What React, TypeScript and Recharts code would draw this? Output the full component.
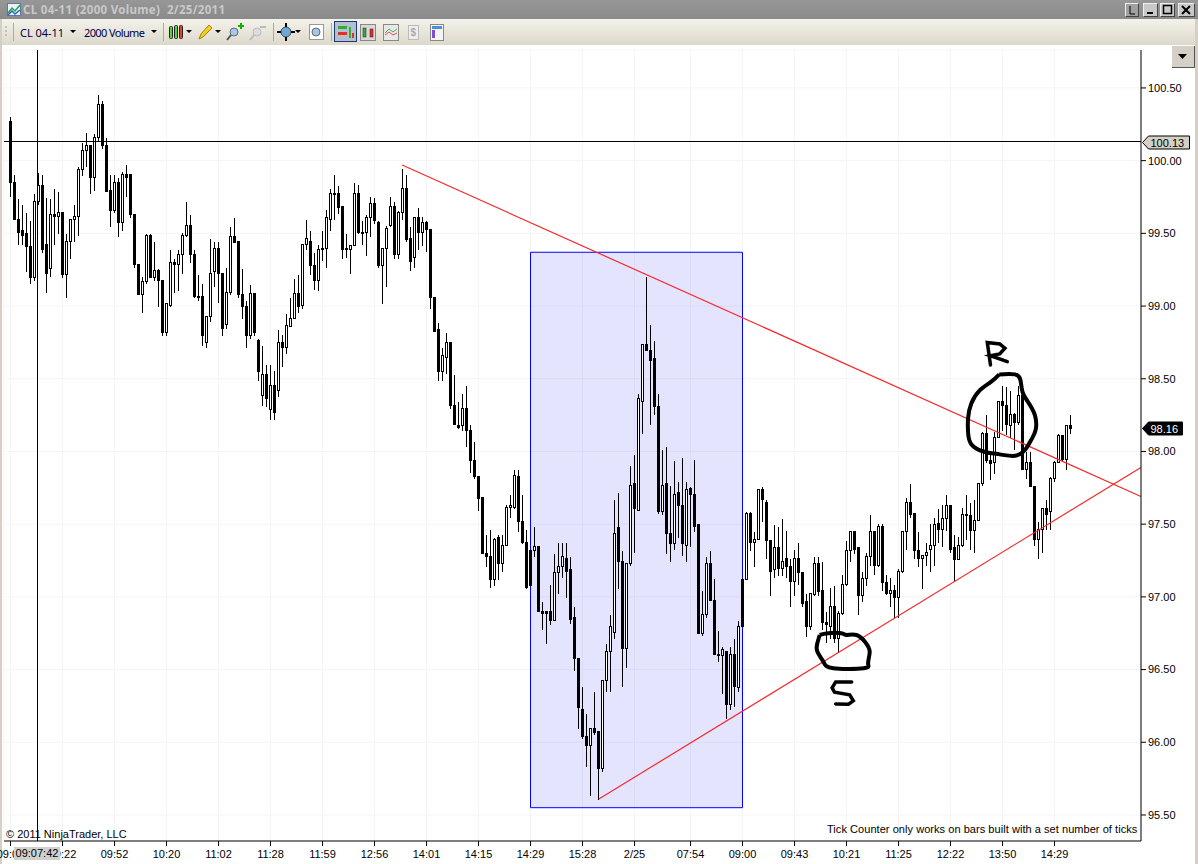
import React from "react";
import {
  Bar,
  CartesianGrid,
  ComposedChart,
  Line,
  ReferenceArea,
  ReferenceLine,
  XAxis,
  YAxis,
} from "recharts";

const opens = [
  100.27,99.85,99.60,99.52,99.50,99.41,99.20,99.72,99.83,99.43,
  99.26,99.63,99.62,99.65,99.22,99.45,99.60,99.62,99.94,100.07,
  100.11,99.89,100.16,100.39,100.11,99.80,99.66,99.85,99.58,99.91,
  99.91,99.63,99.29,99.08,99.17,99.49,99.20,99.25,99.18,98.82,
  99.01,99.30,99.29,99.36,99.49,99.56,99.36,99.07,99.07,98.75,
  98.93,99.24,99.40,99.23,98.88,99.10,99.48,99.45,99.08,99.00,
  98.80,99.09,98.77,98.39,98.53,98.29,98.46,98.42,98.75,98.72,
  98.86,98.92,99.09,99.01,99.43,99.45,99.28,99.18,99.39,99.40,
  99.60,99.78,99.78,99.69,99.39,99.39,99.42,99.78,99.51,99.51,
  99.61,99.71,99.58,99.28,99.40,99.56,99.69,99.36,99.65,99.81,
  99.47,99.34,99.61,99.51,99.58,99.53,99.06,98.84,98.55,98.65,
  98.75,98.32,98.18,98.18,98.30,98.15,97.94,97.83,97.69,97.30,
  97.28,97.12,97.41,97.23,97.36,97.62,97.62,97.83,97.52,97.38,
  97.32,97.32,97.35,96.90,96.90,96.90,96.84,97.17,97.21,97.27,
  97.19,96.86,96.58,96.23,96.04,95.98,96.10,96.08,95.82,96.43,
  96.63,96.76,97.48,97.25,96.65,97.23,97.78,97.60,98.35,98.74,
  98.70,98.64,98.31,97.59,97.78,97.44,97.37,97.72,97.63,97.36,
  97.75,97.71,97.50,96.75,96.88,97.23,96.98,96.61,96.60,96.63,
  96.26,96.61,96.38,97.12,97.12,97.58,97.38,97.40,97.74,97.65,
  97.39,97.19,97.34,97.20,97.27,97.21,97.11,97.27,97.17,96.97,
  96.80,97.02,97.23,97.05,96.83,96.80,96.94,96.72,96.89,97.09,
  97.32,97.45,97.34,97.01,97.13,97.28,97.45,97.22,97.49,97.10,
  97.03,97.05,97.00,97.18,97.45,97.65,97.58,97.32,97.27,97.29,
  97.33,97.36,97.51,97.47,97.54,97.63,97.34,97.26,97.36,97.57,
  97.56,97.46,97.53,97.78,98.13,97.94,97.93,98.10,98.35,98.32,
  98.18,98.26,98.20,98.39,97.88,97.93,97.76,97.40,97.47,97.61,
  97.59,97.82,97.93,98.11,97.95,98.18,
];

const closes = [
  99.85,99.60,99.51,99.49,99.41,99.20,99.72,99.83,99.39,99.23,
  99.63,99.62,99.65,99.22,99.45,99.60,99.62,99.94,100.07,100.11,
  99.89,100.16,100.39,100.11,99.79,99.66,99.85,99.58,99.91,99.89,
  99.63,99.29,99.08,99.17,99.49,99.20,99.25,99.18,98.82,99.02,
  99.30,99.29,99.36,99.49,99.56,99.36,99.07,99.07,98.80,98.93,
  99.23,99.40,99.23,98.85,99.10,99.48,99.44,99.08,99.00,98.80,
  99.09,98.82,98.55,98.53,98.37,98.46,98.27,98.75,98.72,98.87,
  98.92,99.09,99.00,99.43,99.47,99.28,99.18,99.39,99.40,99.61,
  99.78,99.77,99.68,99.39,99.40,99.42,99.78,99.51,99.50,99.61,
  99.71,99.59,99.28,99.40,99.54,99.69,99.36,99.65,99.81,99.46,
  99.31,99.61,99.51,99.58,99.53,99.06,98.83,98.55,98.66,98.75,
  98.32,98.19,98.17,98.30,98.15,97.94,97.83,97.68,97.30,97.28,
  97.12,97.40,97.23,97.36,97.62,97.63,97.84,97.52,97.38,97.07,
  97.08,97.35,96.90,96.89,96.89,96.84,97.17,97.21,97.28,97.18,
  96.85,96.58,96.24,96.04,95.98,96.10,96.07,95.82,96.43,96.63,
  96.80,97.44,97.25,96.65,97.23,97.77,97.61,98.37,98.74,98.70,
  98.63,98.31,97.59,97.77,97.44,97.37,97.71,97.63,97.37,97.74,
  97.71,97.49,96.75,96.88,97.23,96.98,96.61,96.60,96.64,96.26,
  96.61,96.39,96.80,96.80,97.58,97.38,97.40,97.74,97.67,97.39,
  97.18,97.34,97.20,97.25,97.21,97.11,97.27,97.17,96.96,96.80,
  97.03,97.23,97.04,96.83,96.81,96.94,96.72,96.89,97.09,97.32,
  97.45,97.33,97.01,97.13,97.28,97.45,97.22,97.49,97.10,97.03,
  97.05,97.00,97.18,97.45,97.65,97.57,97.32,97.27,97.29,97.31,
  97.36,97.50,97.47,97.54,97.63,97.33,97.26,97.36,97.57,97.56,
  97.46,97.53,97.78,98.13,97.94,97.92,98.10,98.35,98.32,98.19,
  98.26,98.20,98.39,97.88,97.93,97.76,97.40,97.47,97.61,97.57,
  97.82,97.93,98.11,97.95,98.18,98.16,
];

const highs = [
  100.31,99.91,99.74,99.70,99.65,99.59,99.78,99.92,99.91,99.75,
  99.74,99.81,99.79,99.65,99.50,99.60,99.70,99.96,100.13,100.20,
  100.11,100.19,100.46,100.42,100.16,99.91,99.91,99.89,99.93,99.98,
  99.91,99.63,99.29,99.21,99.50,99.50,99.45,99.26,99.18,99.03,
  99.39,99.33,99.39,99.51,99.72,99.63,99.39,99.22,99.16,98.93,
  99.47,99.45,99.45,99.23,99.27,99.55,99.61,99.45,99.26,99.04,
  99.15,99.09,98.78,98.73,98.60,98.60,98.56,98.84,98.81,98.95,
  99.06,99.19,99.22,99.43,99.60,99.52,99.37,99.43,99.52,99.67,
  99.81,99.91,99.83,99.69,99.50,99.43,99.85,99.84,99.59,99.63,
  99.76,99.75,99.59,99.40,99.56,99.76,99.72,99.66,99.95,99.91,
  99.55,99.61,99.68,99.62,99.59,99.53,99.06,98.89,98.72,98.82,
  98.75,98.53,98.35,98.40,98.46,98.19,98.07,97.83,97.69,97.43,
  97.47,97.41,97.43,97.43,97.64,97.71,97.88,97.88,97.71,97.47,
  97.32,97.49,97.35,96.97,96.90,97.09,97.30,97.38,97.38,97.38,
  97.28,96.94,96.58,96.39,96.20,96.10,96.35,96.08,96.43,96.68,
  96.88,97.67,97.72,97.32,97.24,97.91,97.98,98.40,98.74,99.21,
  98.88,98.77,98.40,98.02,98.04,97.77,97.94,97.80,97.96,97.80,
  97.76,97.95,97.50,97.05,97.28,97.32,97.13,96.77,96.66,96.63,
  96.66,96.72,96.84,97.12,97.59,97.59,97.45,97.75,97.76,97.67,
  97.40,97.50,97.49,97.54,97.46,97.27,97.33,97.38,97.17,97.03,
  97.03,97.28,97.28,97.25,96.90,97.07,97.08,96.91,97.16,97.39,
  97.46,97.46,97.34,97.18,97.31,97.57,97.45,97.51,97.51,97.16,
  97.14,97.09,97.20,97.45,97.69,97.78,97.58,97.45,97.29,97.38,
  97.51,97.55,97.61,97.64,97.71,97.63,97.43,97.42,97.62,97.71,
  97.65,97.67,97.79,98.14,98.26,98.00,98.14,98.35,98.46,98.45,
  98.42,98.27,98.46,98.39,98.00,98.00,97.76,97.52,97.61,97.67,
  97.83,97.94,98.13,98.12,98.19,98.26,
];

const lows = [
  99.76,99.60,99.43,99.43,99.24,99.16,99.18,99.70,99.37,99.10,
  99.21,99.43,99.50,99.20,99.06,99.33,99.45,99.49,99.90,99.96,
  99.78,99.80,100.14,100.09,99.79,99.55,99.65,99.48,99.52,99.76,
  99.61,99.27,99.08,98.96,99.16,99.20,99.18,99.00,98.80,98.80,
  99.00,99.10,99.11,99.23,99.48,99.30,99.06,99.04,98.73,98.72,
  98.90,99.14,99.03,98.80,98.85,99.08,99.44,99.06,98.92,98.72,
  98.78,98.80,98.49,98.32,98.31,98.22,98.22,98.38,98.59,98.68,
  98.86,98.92,98.96,98.99,99.39,99.22,99.12,99.11,99.32,99.27,
  99.52,99.60,99.64,99.33,99.34,99.23,99.42,99.50,99.43,99.35,
  99.48,99.57,99.27,99.02,99.14,99.55,99.33,99.33,99.60,99.45,
  99.25,99.27,99.39,99.42,99.38,98.99,98.83,98.49,98.49,98.54,
  98.30,98.19,98.16,98.15,98.04,97.86,97.82,97.60,97.30,97.21,
  97.07,97.08,97.12,97.18,97.36,97.55,97.61,97.45,97.37,97.06,
  97.08,97.28,96.90,96.78,96.68,96.81,96.84,97.03,97.14,97.00,
  96.82,96.50,96.10,96.03,95.84,95.64,96.06,95.61,95.80,96.35,
  96.35,96.72,97.06,96.39,96.52,97.22,97.31,97.60,98.13,98.70,
  98.19,98.26,97.58,97.57,97.30,97.25,97.33,97.41,97.29,97.25,
  97.35,97.45,96.75,96.74,96.86,96.98,96.61,96.56,96.34,96.17,
  96.23,96.25,96.35,96.80,97.12,97.32,97.21,97.40,97.52,97.27,
  97.01,97.14,97.15,97.15,97.14,96.94,97.01,97.09,96.94,96.73,
  96.78,97.01,97.01,96.78,96.69,96.72,96.69,96.62,96.88,97.08,
  97.25,97.30,96.88,96.97,97.08,97.22,97.16,97.21,97.05,97.02,
  96.94,96.86,96.86,97.17,97.33,97.55,97.27,97.21,97.06,97.22,
  97.18,97.22,97.38,97.35,97.46,97.31,97.11,97.26,97.35,97.40,
  97.33,97.31,97.53,97.77,97.93,97.81,97.85,98.10,98.15,98.12,
  98.10,98.02,98.19,97.88,97.82,97.76,97.36,97.27,97.31,97.47,
  97.47,97.80,97.93,97.94,97.88,98.13,
];

const timeTickBars = [0,13,26,39,52,65,78,91,104,117,130,143,156,170,183,196,209,222,235,248,261];
const timeTickLabels = [
  "09:00","09:22","09:52","10:20","11:02","11:28","11:59","12:56","14:01","14:15","14:29",
  "15:28","2/25","07:54","09:00","09:43","10:21","11:25","12:22","13:50","14:29",
];
const priceTicks = [95.5,96,96.5,97,97.5,98,98.5,99,99.5,100,100.5];

const crosshairBar = 6.75;
const crosshairPrice = 100.13;
const lastPrice = 98.16;

// drawing objects, in bar number / price
const boxBars = [130, 183];
const boxPrices = [95.55, 99.37];
const downTrend = [{ x: 97.9, y: 99.97 }, { x: 282.6, y: 97.69 }];
const upTrend = [{ x: 147.1, y: 95.61 }, { x: 282.6, y: 97.89 }];

const resistanceCircle = [
  { i: 247.2, price: 98.53 }, { i: 251.1, price: 98.53 }, { i: 252.5, price: 98.49 },
  { i: 253.0, price: 98.41 }, { i: 254.4, price: 98.34 }, { i: 256.1, price: 98.25 },
  { i: 256.3, price: 98.15 }, { i: 255.2, price: 98.08 }, { i: 253.6, price: 98.01 },
  { i: 251.1, price: 97.97 }, { i: 247.3, price: 97.98 }, { i: 243.2, price: 98.0 },
  { i: 240.2, price: 98.05 }, { i: 239.4, price: 98.13 }, { i: 239.4, price: 98.23 },
  { i: 240.2, price: 98.33 }, { i: 242.3, price: 98.42 }, { i: 245.2, price: 98.48 },
  { i: 247.2, price: 98.53 },
];
const letterR = [
  { i: 245.0, price: 98.595 }, { i: 244.2, price: 98.749 }, { i: 247.3, price: 98.739 },
  { i: 248.6, price: 98.71 }, { i: 247.3, price: 98.671 }, { i: 245.0, price: 98.659 },
  { i: 249.2, price: 98.618 },
];
const supportCircle = [
  { i: 202.3, price: 96.738 }, { i: 204.4, price: 96.75 }, { i: 207.7, price: 96.75 },
  { i: 209.0, price: 96.738 }, { i: 211.5, price: 96.738 }, { i: 213.6, price: 96.692 },
  { i: 214.8, price: 96.624 }, { i: 214.4, price: 96.543 }, { i: 213.3, price: 96.509 },
  { i: 205.7, price: 96.509 }, { i: 203.2, price: 96.555 }, { i: 201.7, price: 96.624 },
  { i: 201.7, price: 96.681 }, { i: 202.3, price: 96.738 },
];
const letterS = [
  { i: 210.3, price: 96.415 }, { i: 206.3, price: 96.415 }, { i: 205.4, price: 96.375 },
  { i: 206.0, price: 96.345 }, { i: 209.8, price: 96.326 }, { i: 210.7, price: 96.285 },
  { i: 209.5, price: 96.262 }, { i: 206.3, price: 96.264 },
];

const candles = opens.map((open, i) => ({
  i,
  open,
  close: closes[i],
  high: highs[i],
  low: lows[i],
}));

const sans = "'Liberation Sans', Arial, sans-serif";

function Candle(props: any) {
  const { x, y, width, height, payload } = props;
  const cx = Math.floor(x + width / 2) + 0.5;
  const k = height / (payload.high - payload.low || 1);
  const snap = (v: number) => Math.round(v) + 0.5;
  const top = snap(y);
  const bottom = snap(y + height);
  const bodyTop = snap(y + (payload.high - Math.max(payload.open, payload.close)) * k);
  const bodyBottom = snap(y + (payload.high - Math.min(payload.open, payload.close)) * k);
  const up = payload.close >= payload.open;
  return (
    <g shapeRendering="crispEdges">
      <line x1={cx} x2={cx} y1={top} y2={bottom} stroke="#000" strokeWidth={1} />
      <rect
        x={cx - 1}
        y={bodyTop}
        width={2}
        height={Math.max(bodyBottom - bodyTop, 1)}
        fill={up ? "#fff" : "#000"}
        stroke="#000"
        strokeWidth={1}
      />
    </g>
  );
}

function PriceTag(props: any) {
  const { viewBox, text, fill, color, tagWidth } = props;
  const x = viewBox.x + viewBox.width + 1.5;
  const y = Math.round(viewBox.y) + 0.5;
  const path = `M${x} ${y} L${x + 6} ${y - 6.5} H${x + tagWidth} V${y + 6.5} H${x + 6} Z`;
  return (
    <g>
      <path d={path} fill={fill} stroke="#000" strokeWidth={1} />
      <text x={x + 8} y={y + 4} fontFamily={sans} fontSize={11} fill={color}>
        {text}
      </text>
    </g>
  );
}

function WinButton({ left, width, children, bg = "#c8c8c8" }: any) {
  return (
    <div
      style={{
        position: "absolute",
        left,
        top: 3,
        width,
        height: 14,
        background: bg,
        borderTop: "1px solid #eee",
        borderLeft: "1px solid #eee",
        borderRight: "1px solid #444",
        borderBottom: "1px solid #444",
        boxSizing: "border-box",
      }}
    >
      <svg width={width - 2} height={12} style={{ display: "block" }}>
        {children}
      </svg>
    </div>
  );
}

function Toolbar() {
  return (
    <svg width={500} height={26} style={{ position: "absolute", left: 0, top: 19 }}>
      <g stroke="#999" strokeWidth={1}>
        <line x1={6} x2={6} y1={7} y2={9} />
        <line x1={6} x2={6} y1={11} y2={13} />
        <line x1={6} x2={6} y1={15} y2={17} />
      </g>
      <line x1={13.5} x2={13.5} y1={4} y2={22} stroke="#aaa" />
      <line x1={163.5} x2={163.5} y1={4} y2={22} stroke="#aaa" />
      <line x1={273.5} x2={273.5} y1={4} y2={22} stroke="#aaa" />
      <line x1={331.5} x2={331.5} y1={4} y2={22} stroke="#aaa" />
      <text x={20} y={18} fontFamily="'Noto Sans', sans-serif" fontSize={11} fill="#000040" textLength={44}>CL 04-11</text>
      <text x={84} y={18} fontFamily="'Noto Sans', sans-serif" fontSize={11} fill="#000040" textLength={61}>2000 Volume</text>
      <path d="M70 11 h6 l-3 3 Z M151 11 h6 l-3 3 Z M186 11 h6 l-3 3 Z M215 11 h6 l-3 3 Z M295 11 h6 l-3 3 Z" fill="#000" />
      {/* candlestick picker */}
      <rect x={169.5} y={7.5} width={3} height={12} rx={1} fill="#5fd03a" stroke="#222" />
      <rect x={174.5} y={6.5} width={3} height={13} rx={1} fill="#5fd03a" stroke="#222" />
      <rect x={179.5} y={6.5} width={3} height={13} rx={1} fill="#e84030" stroke="#222" />
      {/* pencil */}
      <path d="M199 20 L201 15 L209 6 L212 9 L203 18 Z" fill="#f4d020" stroke="#a08010" />
      {/* zoom in / zoom out */}
      <circle cx={234} cy={13} r={4} fill="#a8c8e8" stroke="#667" />
      <line x1={231} x2={227} y1={16} y2={21} stroke="#555" strokeWidth={2} />
      <path d="M238 7 h6 M241 4 v6" stroke="#10b010" strokeWidth={2} />
      <circle cx={257} cy={13} r={4} fill="#ddd" stroke="#bbb" />
      <line x1={254} x2={250} y1={16} y2={21} stroke="#bbb" strokeWidth={2} />
      <path d="M260 8 h6" stroke="#bbb" strokeWidth={2} />
      {/* crosshair */}
      <circle cx={286} cy={13} r={5} fill="#6aa8e0" stroke="#444" />
      <path d="M286 4 v4 M286 18 v4 M277 13 h4 M291 13 h4" stroke="#000" strokeWidth={2} />
      <rect x={309.5} y={5.5} width={14} height={15} fill="#fff" stroke="#999" />
      <circle cx={316} cy={13} r={4} fill="#a8c8e8" stroke="#667" />
      {/* pressed button and the rest of the row */}
      <rect x={334.5} y={2.5} width={22} height={20} fill="#b4bfd4" stroke="#1c3a70" />
      <rect x={338} y={7} width={9} height={3} fill="#30b030" />
      <rect x={338} y={13} width={9} height={3} fill="#e03020" />
      <rect x={349} y={8} width={2} height={11} fill="#30b030" />
      <rect x={352} y={14} width={2} height={5} fill="#e03020" />
      <rect x={360.5} y={5.5} width={15} height={16} fill="#d8d8d8" stroke="#888" />
      <rect x={363} y={9} width={3} height={9} fill="#30b030" stroke="#222" strokeWidth={0.5} />
      <rect x={370} y={10} width={3} height={8} fill="#e03020" stroke="#222" strokeWidth={0.5} />
      <rect x={383.5} y={5.5} width={15} height={16} fill="#e8e8e8" stroke="#888" />
      <path d="M385 14 L389 10 L393 13 L397 10" fill="none" stroke="#50b050" />
      <path d="M385 16 L389 13 L393 16 L397 14" fill="none" stroke="#e05050" />
      <rect x={408.5} y={6.5} width={10} height={14} fill="#eee" stroke="#bbb" />
      <text x={410.5} y={17} fontFamily={sans} fontSize={10} fontWeight={700} fill="#aaa">$</text>
      <rect x={430.5} y={5.5} width={13} height={16} fill="#f4f4f4" stroke="#888" />
      <rect x={432} y={7} width={10} height={3} fill="#4a90d0" />
      <rect x={432} y={11} width={3} height={8} fill="#8050d0" />
    </svg>
  );
}

export default function App() {
  return (
    <div
      style={{
        position: "absolute",
        left: 0,
        top: 0,
        width: 1198,
        height: 864,
        background: "#fff",
        overflow: "hidden",
      }}
    >
      {/* title bar */}
      <div
        style={{
          position: "absolute",
          left: 0,
          top: 0,
          width: 1198,
          height: 19,
          background: "linear-gradient(#979797, #8a8a8a)",
        }}
      >
        <svg width={16} height={14} style={{ position: "absolute", left: 7, top: 3 }}>
          <rect x={0.5} y={0.5} width={13} height={12} fill="#e8f0f8" stroke="#5a7aa0" />
          <path d="M1 10 L5 5 L8 8 L13 2" fill="none" stroke="#20a040" strokeWidth={1.5} />
          <path d="M1 12 L5 8 L8 11 L13 7" fill="none" stroke="#3060c0" strokeWidth={1.5} />
        </svg>
        <svg width={220} height={19} style={{ position: "absolute", left: 23, top: 0 }}>
          <text
            x={0}
            y={14}
            fontFamily="'Noto Sans', sans-serif"
            fontWeight={700}
            fontSize={11.5}
            fill="#c9c9c9"
            textLength={202}
            xmlSpace="preserve"
          >
            {"CL 04-11 (2000 Volume)  2/25/2011"}
          </text>
        </svg>
        <WinButton left={1125} width={14} bg="#a0a0a0">
          <path d="M4 2 V10 H9" fill="none" stroke="#000" />
        </WinButton>
        <WinButton left={1143} width={15}>
          <path d="M3 9 H9" stroke="#000" strokeWidth={2} />
        </WinButton>
        <WinButton left={1160} width={15}>
          <rect x={2.5} y={1.5} width={8} height={8} fill="none" stroke="#000" strokeWidth={1.5} />
        </WinButton>
        <WinButton left={1178} width={17}>
          <path d="M3 2 L11 10 M11 2 L3 10" stroke="#000" strokeWidth={2} />
        </WinButton>
      </div>

      {/* toolbar */}
      <div
        style={{
          position: "absolute",
          left: 2,
          top: 19,
          width: 1194,
          height: 26,
          background: "linear-gradient(#f4f2ea, #dcd8cc)",
        }}
      />
      <Toolbar />

      {/* window edges */}
      <div style={{ position: "absolute", left: 0, top: 19, width: 2, height: 845, background: "#d4d0c8" }} />
      <div style={{ position: "absolute", left: 1195, top: 19, width: 3, height: 845, background: "#d4d0c8" }} />

      {/* scale menu button */}
      <div
        style={{
          position: "absolute",
          left: 1172,
          top: 46,
          width: 23,
          height: 22,
          background: "#d4d0c8",
          borderRight: "1px solid #555",
          borderBottom: "1px solid #555",
          boxSizing: "border-box",
        }}
      >
        <svg width={22} height={20}>
          <path d="M6 8 H15 L10.5 13 Z" fill="#000" />
        </svg>
      </div>

      <div style={{ position: "absolute", left: 0, top: 0 }}>
        <ComposedChart
          width={1198}
          height={864}
          data={candles}
          margin={{ top: 50, right: 0, bottom: 0, left: 4 }}
        >
          <CartesianGrid stroke="#f5f5f5" strokeWidth={1} />
          <XAxis
            dataKey="i"
            type="number"
            domain={[-1.625, 282.625]}
            allowDataOverflow
            ticks={timeTickBars}
            interval={0}
            height={23}
            stroke="#000"
            tickSize={5}
            tickMargin={4}
            tickFormatter={(v: number) => timeTickLabels[timeTickBars.indexOf(v)]}
            tick={{ fontFamily: sans, fontSize: 11, fill: "#000" }}
          />
          <YAxis
            orientation="right"
            type="number"
            domain={[95.321, 100.761]}
            allowDataOverflow
            ticks={priceTicks}
            interval={0}
            width={57}
            stroke="#000"
            tickSize={5}
            tickMargin={2}
            tickFormatter={(v: number) => v.toFixed(2)}
            tick={{ fontFamily: sans, fontSize: 11, fill: "#000" }}
          />
          <Bar
            dataKey={(d: any) => [d.low, d.high]}
            barSize={3}
            shape={<Candle />}
            isAnimationActive={false}
          />
          <ReferenceArea
            x1={boxBars[0]}
            x2={boxBars[1]}
            y1={boxPrices[0]}
            y2={boxPrices[1]}
            fill="#0000ff"
            fillOpacity={0.105}
            stroke="#0000ff"
            strokeOpacity={1}
            strokeWidth={1}
          />
          <ReferenceLine segment={downTrend} stroke="#f52a2a" strokeWidth={1.2} />
          <ReferenceLine segment={upTrend} stroke="#f52a2a" strokeWidth={1.2} />
          <ReferenceLine x={crosshairBar} stroke="#000" strokeWidth={1} shapeRendering="crispEdges" />
          <ReferenceLine
            y={crosshairPrice}
            stroke="#000"
            strokeWidth={1}
            shapeRendering="crispEdges"
            label={<PriceTag text="100.13" fill="#d4d0c8" color="#000" tagWidth={47} />}
          />
          <ReferenceLine
            y={lastPrice}
            stroke="none"
            label={<PriceTag text="98.16" fill="#000" color="#fff" tagWidth={40} />}
          />
          <Line data={resistanceCircle} dataKey="price" type="natural" stroke="#000" strokeWidth={4} dot={false} isAnimationActive={false} />
          <Line data={letterR} dataKey="price" type="linear" stroke="#000" strokeWidth={3.5} strokeLinecap="round" dot={false} isAnimationActive={false} />
          <Line data={supportCircle} dataKey="price" type="natural" stroke="#000" strokeWidth={4} dot={false} isAnimationActive={false} />
          <Line data={letterS} dataKey="price" type="linear" stroke="#000" strokeWidth={3.5} strokeLinecap="round" dot={false} isAnimationActive={false} />
        </ComposedChart>
      </div>

      {/* crosshair time box sits over the first tick labels */}
      <div
        style={{
          position: "absolute",
          left: 14,
          top: 847,
          width: 46,
          height: 13,
          lineHeight: "13px",
          textAlign: "center",
          background: "#d0d0d0",
          fontFamily: sans,
          fontSize: 11,
          color: "#000",
        }}
      >
        09:07:42
      </div>

      {/* chart notes */}
      <div
        style={{
          position: "absolute",
          left: 6,
          top: 828,
          fontFamily: sans,
          fontSize: 11,
          color: "#000",
          whiteSpace: "nowrap",
        }}
      >
        © 2011 NinjaTrader, LLC
      </div>
      <div
        style={{
          position: "absolute",
          left: 827,
          top: 823,
          fontFamily: sans,
          fontSize: 11,
          letterSpacing: 0.05,
          color: "#000",
          whiteSpace: "nowrap",
        }}
      >
        Tick Counter only works on bars built with a set number of ticks
      </div>
    </div>
  );
}
